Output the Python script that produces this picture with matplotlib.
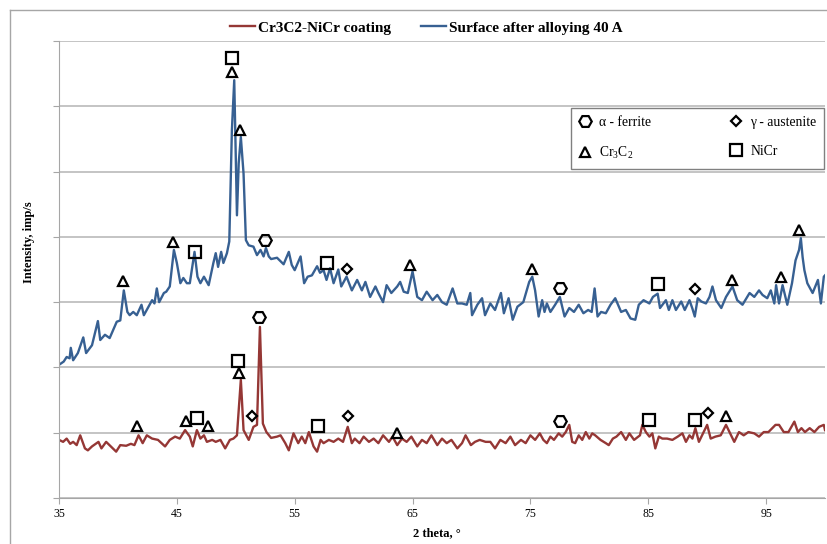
import matplotlib
matplotlib.use('Agg')
import matplotlib.pyplot as plt
from matplotlib.lines import Line2D

plt.rcParams['font.family'] = ['Liberation Serif', 'DejaVu Serif']
plt.rcParams['mathtext.default'] = 'regular'

# --- data (intensity in chart units) ---
theta_surface = [35.0, 35.4, 35.65, 35.9, 36.0, 36.2, 36.6, 37.06, 37.3, 37.8, 38.3, 38.5, 38.9, 39.3, 39.9,
                 40.2, 40.5, 40.8, 41.0, 41.3, 41.6, 42.0, 42.2, 42.6, 42.9, 43.1, 43.3, 43.5, 43.9, 44.1,
                 44.4, 44.75, 45.0, 45.3, 45.55, 45.85, 46.1, 46.5, 46.75, 47.0, 47.3, 47.7, 48.1, 48.3, 48.5,
                 48.76, 48.95, 49.25, 49.45, 49.67, 49.87, 50.1, 50.25, 50.43, 50.66, 50.86, 51.1, 51.5, 51.8, 52.1,
                 52.36, 52.56, 52.8, 53.0, 53.5, 54.06, 54.5, 54.75, 55.0, 55.5, 55.8, 56.1, 56.46, 56.9, 57.15,
                 57.45, 57.7, 58.0, 58.3, 58.7, 58.95, 59.4, 59.85, 60.3, 60.7, 61.0, 61.4, 61.85, 62.1, 62.5,
                 62.8, 63.2, 63.7, 63.95, 64.25, 64.6, 65.0, 65.4, 65.8, 66.2, 66.7, 67.1, 67.5, 67.9, 68.4,
                 68.8, 69.2, 69.6, 69.9, 70.05, 70.5, 70.9, 71.15, 71.6, 72.0, 72.5, 72.75, 73.15, 73.5, 73.9,
                 74.4, 74.9, 75.16, 75.4, 75.7, 76.0, 76.2, 76.4, 76.7, 77.1, 77.5, 77.9, 78.3, 78.7, 79.1,
                 79.5, 79.9, 80.2, 80.45, 80.7, 81.0, 81.4, 81.8, 82.2, 82.7, 83.1, 83.5, 83.9, 84.2, 84.6,
                 85.1, 85.4, 85.8, 86.0, 86.5, 86.75, 87.05, 87.35, 87.8, 88.1, 88.5, 88.75, 88.95, 89.2, 89.5,
                 89.9, 90.2, 90.45, 90.75, 91.2, 91.6, 92.15, 92.55, 93.0, 93.6, 94.0, 94.4, 94.7, 95.1, 95.4,
                 95.7, 95.85, 96.1, 96.4, 96.8, 97.2, 97.5, 97.8, 97.95, 98.1, 98.25, 98.5, 98.95, 99.4, 99.65,
                 99.9, 100.0]
int_surface = [204, 209, 216, 214, 230, 211, 222, 246, 222, 234, 271, 242, 250, 245, 270,
               272, 318, 285, 280, 285, 280, 296, 280, 293, 303, 298, 321, 300, 314, 316,
               324, 380, 360, 329, 337, 329, 329, 377, 339, 329, 339, 326, 360, 375, 354,
               377, 360, 375, 393, 563, 640, 433, 513, 553, 497, 395, 387, 385, 372, 380,
               370, 383, 370, 366, 368, 358, 377, 357, 349, 370, 329, 339, 341, 355, 345,
               349, 334, 352, 329, 350, 324, 339, 318, 334, 318, 331, 308, 324, 314, 300,
               326, 314, 324, 331, 316, 314, 347, 308, 303, 316, 303, 311, 300, 296, 321,
               298, 298, 296, 314, 280, 296, 306, 280, 298, 288, 314, 283, 306, 273, 293,
               300, 331, 339, 318, 278, 303, 285, 298, 285, 296, 308, 278, 291, 285, 296,
               283, 288, 285, 321, 278, 285, 283, 296, 306, 285, 288, 275, 273, 296, 303,
               298, 308, 313, 291, 303, 288, 303, 288, 301, 288, 303, 290, 278, 306, 301,
               298, 308, 324, 303, 291, 308, 324, 303, 296, 314, 308, 318, 311, 306, 318,
               298, 326, 298, 326, 296, 329, 364, 380, 398, 369, 349, 329, 314, 334, 298,
               339, 341]

theta_coating = [35.0, 35.35, 35.65, 35.95, 36.2, 36.5, 36.8, 37.2, 37.45, 37.8, 38.35, 38.6, 39.0, 39.4, 39.85,
                 40.2, 40.7, 41.1, 41.4, 41.75, 42.1, 42.45, 42.9, 43.4, 44.0, 44.4, 44.85, 45.25, 45.7, 46.1,
                 46.35, 46.7, 47.0, 47.3, 47.55, 48.0, 48.3, 48.7, 49.1, 49.5, 49.8, 50.1, 50.43, 50.66, 51.1,
                 51.5, 51.8, 52.05, 52.3, 52.6, 53.0, 53.5, 53.8, 54.2, 54.5, 54.9, 55.3, 55.6, 55.9, 56.2,
                 56.6, 56.9, 57.2, 57.45, 57.9, 58.3, 58.7, 59.1, 59.5, 59.85, 60.1, 60.5, 60.85, 61.3, 61.7,
                 62.1, 62.5, 63.0, 63.3, 63.7, 64.1, 64.5, 64.9, 65.4, 65.8, 66.2, 66.6, 67.1, 67.5, 67.9,
                 68.3, 68.8, 69.2, 69.5, 69.95, 70.3, 70.7, 71.2, 71.6, 72.0, 72.45, 72.9, 73.3, 73.7, 74.2,
                 74.6, 75.0, 75.4, 75.8, 76.1, 76.4, 76.7, 77.0, 77.4, 77.7, 78.0, 78.3, 78.55, 78.8, 79.1,
                 79.4, 79.7, 80.0, 80.25, 80.5, 80.95, 81.4, 81.65, 82.0, 82.3, 82.7, 83.1, 83.4, 83.8, 84.3,
                 84.5, 84.8, 85.1, 85.35, 85.6, 85.9, 86.2, 86.6, 87.05, 87.5, 87.9, 88.2, 88.5, 88.75, 89.0,
                 89.3, 89.7, 90.0, 90.3, 90.7, 91.15, 91.6, 91.95, 92.3, 92.7, 93.1, 93.5, 94.0, 94.4, 94.8,
                 95.2, 95.8, 96.1, 96.5, 96.9, 97.4, 97.7, 98.0, 98.3, 98.7, 99.1, 99.5, 99.9, 100.0]
int_coating = [89, 86, 91, 83, 86, 81, 96, 76, 73, 79, 86, 76, 86, 79, 71,
               81, 80, 83, 81, 96, 84, 96, 91, 89, 79, 89, 94, 91, 104, 94,
               79, 104, 91, 96, 86, 89, 86, 89, 76, 89, 91, 96, 181, 104, 89,
               109, 112, 262, 114, 101, 92, 94, 96, 84, 73, 99, 84, 94, 84, 101,
               79, 71, 89, 84, 89, 86, 91, 86, 109, 84, 91, 84, 94, 86, 91,
               84, 96, 86, 94, 81, 91, 86, 94, 79, 89, 84, 96, 81, 91, 84,
               89, 76, 84, 96, 81, 86, 89, 86, 86, 76, 89, 84, 94, 81, 89,
               84, 96, 89, 99, 89, 84, 94, 89, 99, 94, 101, 112, 86, 84, 96,
               89, 101, 91, 99, 96, 89, 84, 81, 91, 94, 101, 89, 99, 89, 96,
               112, 101, 94, 99, 76, 94, 91, 91, 89, 94, 99, 86, 96, 91, 107,
               86, 101, 112, 91, 94, 96, 112, 99, 86, 101, 96, 101, 99, 94, 101,
               101, 112, 112, 101, 101, 117, 101, 107, 101, 107, 101, 109, 112, 104]

# phase labels (2theta, height) above the surface curve
surf_ferrite = ([52.5, 77.5], [395, 322])
surf_austenite = ([59.4, 89.0], [351, 320])
surf_carbide = ([40.45, 44.7, 49.7, 50.4, 64.8, 75.1, 92.1, 96.3, 97.8], [332, 392, 652, 564, 357, 351, 334, 338, 410])
surf_nicr = ([46.5, 49.7, 57.7, 85.8], [377, 674, 360, 328])
# phase labels above the coating curve
coat_ferrite = ([52.0, 77.5], [277, 118])
coat_austenite = ([51.4, 59.5, 90.05], [126, 126, 130])
coat_carbide = ([41.6, 45.8, 47.65, 50.3, 63.7, 91.6], [110, 118, 110, 191, 100, 126])
coat_nicr = ([46.7, 50.2, 57.0, 85.1, 88.95], [122, 210, 110, 119, 119])

red = '#953735'
blue = '#376092'

fig = plt.figure(figsize=(8.28, 5.44), dpi=100)
# outer chart border (top and left only visible)
fig.add_artist(Line2D([10/828, 1], [1-10/544, 1-10/544], color='#a6a6a6', lw=1))
fig.add_artist(Line2D([10/828, 10/828], [0, 1-10/544], color='#a6a6a6', lw=1))

ax = fig.add_axes([59/828, 46/544, 766/828, 457/544])
l1, = ax.plot(theta_coating, int_coating, color=red, lw=1.7, label='Cr3C2-NiCr coating')
l2, = ax.plot(theta_surface, int_surface, color=blue, lw=1.7, label='Surface after alloying 40 A')

mk = dict(linestyle='none', markerfacecolor='none', markeredgecolor='black', markeredgewidth=1.6, zorder=5)
for xs, ys in [surf_ferrite, coat_ferrite]:
    ax.plot(xs, ys, marker='H', markersize=9, **mk)
for xs, ys in [surf_austenite, coat_austenite]:
    ax.plot(xs, ys, marker='D', markersize=5.5, **mk)
for xs, ys in [surf_carbide, coat_carbide]:
    ax.plot(xs, ys, marker='^', markersize=7.5, **mk)
for xs, ys in [surf_nicr, coat_nicr]:
    ax.plot(xs, ys, marker='s', markersize=8, **mk)

ax.set_xlim(35, 100)
ax.set_ylim(0, 700)
ax.set_xticks([35, 45, 55, 65, 75, 85, 95])
ax.set_yticks(range(0, 701, 100))
ax.set_yticklabels([])
ax.tick_params(axis='x', labelsize=8.5, length=4, color='#a6a6a6', pad=3)
ax.tick_params(axis='y', length=4, color='#a6a6a6')
ax.grid(axis='y', color='#b4b4b4', lw=1.1)
ax.set_axisbelow(True)
for s in ['top', 'right']:
    ax.spines[s].set_visible(False)
for s in ['left', 'bottom']:
    ax.spines[s].set_color('#a6a6a6')

ax.set_xlabel('2 theta, °', fontsize=9, fontweight='bold')
ax.xaxis.set_label_coords(0.493, -0.064)
ax.set_ylabel('Intensity, imp/s', fontsize=9, fontweight='bold')
ax.yaxis.set_label_coords(-0.031, 0.56)

fig.legend(handles=[l1, l2], loc='center', bbox_to_anchor=(0.515, 1-28/544), ncol=2, frameon=False,
           prop={'weight': 'bold', 'size': 11}, handlelength=1.6, handletextpad=0.2, columnspacing=2.0)

# phase key: columns fill top-down, so hexagon/triangle first, then diamond/square
ph = [Line2D([], [], marker='H', markersize=9, **mk),
      Line2D([], [], marker='^', markersize=7.5, **mk),
      Line2D([], [], marker='D', markersize=5.5, **mk),
      Line2D([], [], marker='s', markersize=8, **mk)]
ax.legend(ph, ['α - ferrite', 'Cr$_3$C$_2$', 'γ - austenite', 'NiCr'], ncol=2,
          loc='center', bbox_to_anchor=(571/828, 1-169/544, 253/828, 61/544),
          bbox_transform=fig.transFigure, mode='expand', fontsize=9.8, handlelength=0.9,
          handletextpad=0.6, labelspacing=1.2, fancybox=False, edgecolor='#808080',
          framealpha=1, borderpad=0.55, borderaxespad=0)

fig.savefig('out.png', dpi=100)
